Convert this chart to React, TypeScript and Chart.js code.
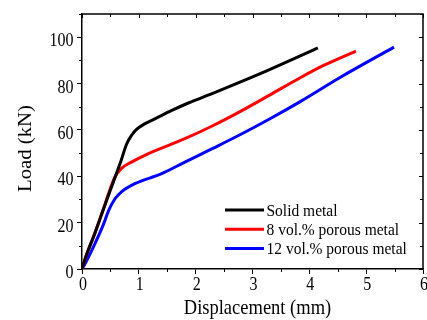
import React, { useEffect, useRef } from "react";
import { Chart, registerables } from "chart.js";

Chart.register(...registerables);

// Displacement (mm) / Load (kN)
const solidX = [0, 0.07, 0.22, 0.37, 0.49, 0.58, 0.69, 0.78, 0.87, 0.95, 1.11, 1.3, 1.58, 1.86, 2.3, 2.78, 3.3, 3.84, 4.15];
const solidY = [0, 5.5, 15.0, 25.3, 33.4, 39.5, 46.9, 53.6, 57.6, 60.0, 62.7, 65.0, 68.4, 71.5, 75.8, 80.6, 86.0, 91.9, 95.4];

const porous8X = [0, 0.07, 0.22, 0.37, 0.46, 0.58, 0.69, 0.87, 1.16, 1.81, 2.3, 2.78, 3.3, 3.84, 4.25, 4.82];
const porous8Y = [0, 5.5, 15.0, 25.3, 32.0, 39.7, 43.3, 46.1, 49.7, 56.2, 61.8, 67.9, 75.0, 82.5, 87.8, 94.0];

const porous12X = [0, 0.07, 0.22, 0.37, 0.47, 0.58, 0.69, 0.93, 1.4, 1.81, 2.3, 2.78, 3.3, 3.84, 4.54, 5.49];
const porous12Y = [0, 3.0, 10.5, 18.8, 25.3, 30.3, 33.2, 36.8, 41.1, 46.1, 52.0, 57.9, 64.7, 72.2, 82.6, 95.7];

const seriesLabels = ["Solid metal", "8 vol.% porous metal", "12 vol.% porous metal"];
const seriesColors = ["#000000", "#ff0000", "#0000ff"];

const xTitle = "Displacement (mm)";
const yTitle = "Load (kN)";
const xMin = 0, xMax = 6, xMajor = 1, xMinor = 0.5;
const yMin = 0, yMax = 110, yMajor = 20, yMinor = 10;

const FONT = "'Liberation Serif', 'Times New Roman', serif";
const STRETCH = 1.12; // reference text is slightly taller than wide

const pairs = (xs: number[], ys: number[]) => xs.map((x, i) => ({ x, y: ys[i] }));

function drawText(ctx: any, text: string, x: number, y: number, size: number, align: string, rotate = false) {
  ctx.save();
  ctx.translate(x, y);
  ctx.scale(1, STRETCH);
  if (rotate) ctx.rotate(-Math.PI / 2);
  ctx.font = `${size}px ${FONT}`;
  ctx.textAlign = align;
  ctx.textBaseline = "alphabetic";
  ctx.fillStyle = "#000";
  ctx.fillText(text, 0, 0);
  ctx.restore();
}

const framePlugin = {
  id: "frameTicks",
  afterDraw(chart: any) {
    const { ctx, chartArea } = chart;
    const xs = chart.scales.x;
    const ys = chart.scales.y;
    const { left, right, top, bottom } = chartArea;
    ctx.save();
    ctx.strokeStyle = "#000";
    ctx.lineWidth = 1.5;
    ctx.beginPath();
    ctx.moveTo(left, top);
    ctx.lineTo(right, top);
    ctx.lineTo(right, bottom);
    ctx.stroke();
    ctx.lineWidth = 1;
    ctx.beginPath();
    for (let v = xMin; v <= xMax + 1e-9; v += xMinor) {
      const px = Math.round(xs.getPixelForValue(v)) + 0.5;
      const major = Math.abs(v / xMajor - Math.round(v / xMajor)) < 1e-6;
      if (!major) {
        ctx.moveTo(px, bottom);
        ctx.lineTo(px, bottom + 3);
      }
      ctx.moveTo(px, top);
      ctx.lineTo(px, top + (major ? 4 : 3));
    }
    for (let v = yMin; v <= yMax + 1e-9; v += yMinor) {
      const py = Math.round(ys.getPixelForValue(v)) + 0.5;
      const major = Math.abs(v / yMajor - Math.round(v / yMajor)) < 1e-6;
      if (!major) {
        ctx.moveTo(left, py);
        ctx.lineTo(left - 3, py);
      }
      ctx.moveTo(right, py);
      ctx.lineTo(right - (major ? 4 : 3), py);
    }
    ctx.stroke();
    ctx.restore();

    // tick labels from the scales' own ticks
    xs.ticks.forEach((t: any) => {
      drawText(ctx, String(t.value), xs.getPixelForValue(t.value) + 1, bottom + 20.6, 16, "center");
    });
    ys.ticks.forEach((t: any) => {
      drawText(ctx, String(t.value), left - 8.5, ys.getPixelForValue(t.value) + 9, 16, "right");
    });
    // axis titles
    drawText(ctx, xTitle, (left + right) / 2 + 5, bottom + 44.6, 18.5, "center");
    drawText(ctx, yTitle, 31, (top + bottom) / 2 + 7, 18.5, "center", true);
  },
};

const legendPlugin = {
  id: "innerLegend",
  afterDatasetsDraw(chart: any) {
    const { ctx, chartArea } = chart;
    const x0 = chartArea.left + 143;
    const x1 = x0 + 39;
    const y0 = chartArea.top + 196;
    chart.data.datasets.forEach((ds: any, i: number) => {
      const y = y0 + i * 19.2;
      ctx.save();
      ctx.strokeStyle = ds.borderColor;
      ctx.lineWidth = 3;
      ctx.beginPath();
      ctx.moveTo(x0, y);
      ctx.lineTo(x1, y);
      ctx.stroke();
      ctx.restore();
      drawText(ctx, ds.label, x1 + 2.5, y + 5.7, 15.5, "left");
    });
  },
};

export default function App() {
  const ref = useRef<HTMLCanvasElement | null>(null);
  useEffect(() => {
    document.body.style.margin = "0";
    if (!ref.current) return;
    const data = [pairs(solidX, solidY), pairs(porous8X, porous8Y), pairs(porous12X, porous12Y)];
    const chart = new Chart(ref.current, {
      type: "line",
      data: {
        datasets: data.map((d, i) => ({
          label: seriesLabels[i],
          data: d,
          borderColor: seriesColors[i],
          backgroundColor: seriesColors[i],
          borderWidth: 3,
          pointRadius: 0,
          cubicInterpolationMode: "monotone" as const,
          fill: false,
        })),
      },
      options: {
        responsive: false,
        animation: false,
        layout: { padding: { top: 14, right: 4, left: 0, bottom: 0 } },
        plugins: { legend: { display: false }, tooltip: { enabled: false } },
        scales: {
          x: {
            type: "linear",
            min: xMin,
            max: xMax,
            ticks: { stepSize: xMajor, includeBounds: false, display: false },
            grid: { drawOnChartArea: false, drawTicks: true, tickLength: 5, color: "#000", lineWidth: 1 },
            border: { display: true, color: "#000", width: 1.5 },
            title: { display: false, text: xTitle },
            afterFit: (s: any) => { s.height = 51; },
          },
          y: {
            type: "linear",
            min: yMin,
            max: yMax,
            ticks: { stepSize: yMajor, includeBounds: false, display: false },
            grid: { drawOnChartArea: false, drawTicks: true, tickLength: 5, color: "#000", lineWidth: 1 },
            border: { display: true, color: "#000", width: 1.5 },
            title: { display: false, text: yTitle },
            afterFit: (s: any) => { s.width = 82; },
          },
        },
      },
      plugins: [framePlugin, legendPlugin],
    });
    return () => chart.destroy();
  }, []);
  return (
    <div style={{ position: "fixed", left: 0, top: 0, width: 427, height: 320, background: "#fff" }}>
      <canvas ref={ref} width={427} height={320} style={{ display: "block", width: 427, height: 320 }} />
    </div>
  );
}
